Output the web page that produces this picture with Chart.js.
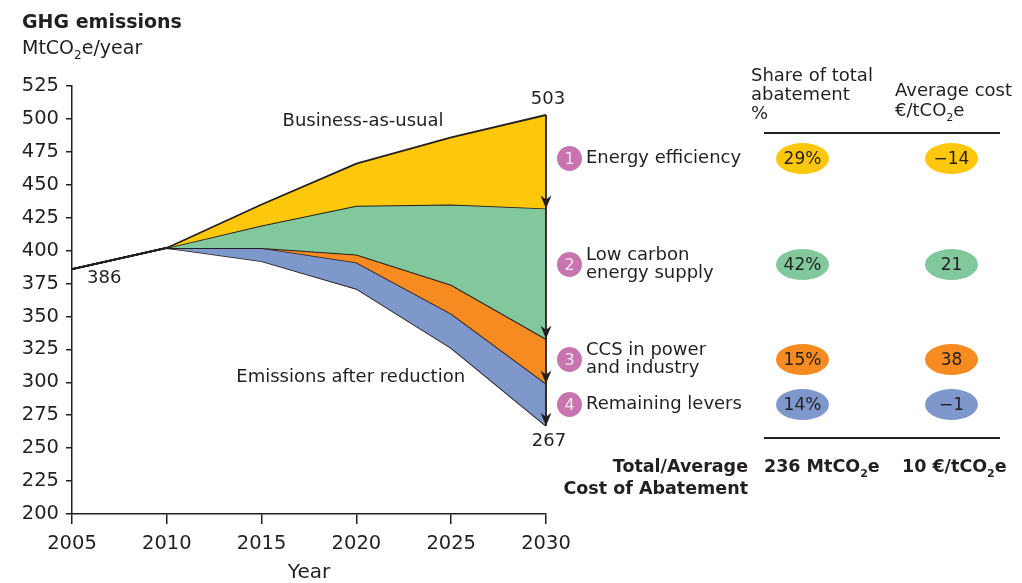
<!DOCTYPE html>
<html>
<head>
<meta charset="utf-8">
<script src="https://cdn.jsdelivr.net/npm/chart.js@4/dist/chart.umd.min.js"></script>
<style>
  html, body { margin: 0; padding: 0; background: #fff; }
  body { width: 1022px; height: 583px; position: relative; overflow: hidden;
         font-family: "DejaVu Sans", sans-serif; color: #231f20; }
  #wrap { position: absolute; left: 0; top: 0; width: 1022px; height: 583px; }
  .t { position: absolute; white-space: nowrap; font-size: 18px; line-height: 18px; }
  .b { font-weight: bold; }
  .dot { position: absolute; width: 25px; height: 25px; border-radius: 50%; background: #c874ae;
         color: #f6e6f0; font-size: 16px; line-height: 25px; text-align: center; }
  .pill { position: absolute; width: 53px; height: 31px; border-radius: 50%; font-size: 17px;
          line-height: 31px; text-align: center; }
  .rule { position: absolute; left: 764px; width: 236px; height: 1.5px; background: #231f20; }
  sub { font-size: 11px; }
</style>
</head>
<body>
<div id="wrap"><canvas id="ghg" width="1022" height="583"></canvas></div>
<div class="t b" style="left:22px; top:10px; font-size:19px; line-height:22px;">GHG emissions</div>
<div class="t" style="left:22px; top:36px; font-size:19px; line-height:22px;">MtCO<sub style="font-size:12px;">2</sub>e/year</div>
<div id="table"></div>
<script>
const years = [2005, 2010, 2015, 2020, 2025, 2030];
const businessAsUsual = [386, 402, 435, 466, 486, 503];
const afterEfficiency = [386, 402, 419, 434, 435, 432];
const afterLowCarbon = [386, 402, 402, 397, 374, 333];
const afterCcs = [386, 402, 402, 391, 352, 299];
const afterAllLevers = [386, 402, 392, 371, 326, 267];
const stubYears = [2010, 2012];
const stubValues = [402, 401];

const levers = [['Energy efficiency'], ['Low carbon', 'energy supply'], ['CCS in power', 'and industry'], ['Remaining levers']];
const shares = ['29%', '42%', '15%', '14%'];
const costs = ['\u221214', '21', '38', '\u22121'];
const leverColors = ['#fdc80c', '#81c99d', '#f68b21', '#7f98cc'];

const toPoints = (vals, xs = years) => vals.map((v, i) => ({ x: xs[i], y: v }));

const ink = '#231f20';
const tickFont = { family: 'DejaVu Sans', size: 19.5 };

// arrows + value labels on the 2030 line
const arrowPlugin = {
    id: 'arrows',
    afterDatasetsDraw(chart) {
        const { ctx, scales: { x, y } } = chart;
        const px = x.getPixelForValue(2030);
        const last = arr => arr[arr.length - 1];
        const top = y.getPixelForValue(last(businessAsUsual));
        const bottom = y.getPixelForValue(last(afterAllLevers));
        ctx.save();
        ctx.strokeStyle = ink;
        ctx.fillStyle = ink;
        ctx.lineWidth = 1.8;
        ctx.beginPath();
        ctx.moveTo(px, top);
        ctx.lineTo(px, bottom);
        ctx.stroke();
        [afterEfficiency, afterLowCarbon, afterCcs, afterAllLevers].forEach(arr => {
            const py = y.getPixelForValue(last(arr));
            ctx.beginPath();
            ctx.moveTo(px - 5.5, py - 13);
            ctx.lineTo(px, py - 9);
            ctx.lineTo(px + 5.5, py - 13);
            ctx.lineTo(px, py);
            ctx.closePath();
            ctx.fill();
        });

        ctx.font = '18px "DejaVu Sans"';
        ctx.textAlign = 'center';
        ctx.textBaseline = 'middle';
        ctx.fillText(String(last(businessAsUsual)), px + 2, top - 16);
        ctx.fillText(String(last(afterAllLevers)), px + 3, bottom + 16);
        ctx.textAlign = 'left';
        ctx.fillText(String(businessAsUsual[0]), x.getPixelForValue(2005) + 15, y.getPixelForValue(businessAsUsual[0]) + 9);
        ctx.textAlign = 'center';
        ctx.fillText('Business-as-usual', x.getPixelForValue(2020.35), y.getPixelForValue(498.4));
        ctx.fillText('Emissions after reduction', x.getPixelForValue(2019.7), y.getPixelForValue(303.9));
        ctx.restore();
    }
};

const area = (data, color, fill) => ({
    data: toPoints(data),
    borderColor: ink,
    borderWidth: 1.8,
    backgroundColor: color,
    fill: fill,
    pointRadius: 0,
    tension: 0
});

new Chart(document.getElementById('ghg'), {
    type: 'line',
    data: {
        datasets: [
            area(businessAsUsual, leverColors[0], '+1'),
            area(afterEfficiency, leverColors[1], '+1'),
            area(afterLowCarbon, leverColors[2], '+1'),
            area(afterCcs, leverColors[3], '+1'),
            area(afterAllLevers, 'transparent', false),
            {
                data: toPoints(stubValues, stubYears),
                borderColor: ink,
                borderWidth: 2.5,
                fill: false,
                pointRadius: 0
            }
        ]
    },
    options: {
        responsive: false,
        animation: false,
        layout: { padding: { left: 0, top: 86, right: 476, bottom: 0 } },
        plugins: { legend: { display: false }, tooltip: { enabled: false } },
        scales: {
            x: {
                type: 'linear',
                min: 2005,
                max: 2030,
                afterFit: s => { s.height = 69; },
                afterBuildTicks: s => { s.ticks = years.map(v => ({ value: v })); },
                title: { display: true, text: 'Year', color: ink, font: { family: 'DejaVu Sans', size: 20, lineHeight: 1 }, padding: { top: 0, bottom: 0 } },
                ticks: { color: ink, font: tickFont, padding: 8, maxRotation: 0, callback: v => String(v) },
                grid: { drawOnChartArea: false, drawTicks: true, tickLength: 10, color: ink, lineWidth: 1.5 },
                border: { color: ink, width: 1.5 }
            },
            y: {
                min: 200,
                max: 525,
                afterFit: s => { s.width = 72; },
                ticks: { stepSize: 25, color: ink, font: tickFont, padding: 7 },
                grid: { drawOnChartArea: false, drawTicks: true, tickLength: 6, color: ink, lineWidth: 1.5 },
                border: { color: ink, width: 1.5 }
            }
        }
    },
    plugins: [arrowPlugin]
});

// right-hand table
const rowY = [158, 264, 359, 404];
let html = '';
html += '<div class="t" style="left:751px; top:65px; line-height:19px;">Share of total<br>abatement<br>%</div>';
html += '<div class="t" style="left:895px; top:80px; line-height:20px;">Average cost<br>\u20ac/tCO<sub>2</sub>e</div>';
html += '<div class="rule" style="top:132px;"></div>';
levers.forEach((lines, i) => {
    const cy = rowY[i];
    html += `<div class="dot" style="left:557px; top:${cy - 12}px;">${i + 1}</div>`;
    const h = lines.length * 18;
    html += `<div class="t" style="left:586px; top:${cy - h / 2 - 1}px;">${lines.join('<br>')}</div>`;
    html += `<div class="pill" style="left:776px; top:${cy - 15}px; background:${leverColors[i]};">${shares[i]}</div>`;
    html += `<div class="pill" style="left:925px; top:${cy - 15}px; background:${leverColors[i]};">${costs[i]}</div>`;
});
html += '<div class="rule" style="top:437px;"></div>';
html += '<div class="t b" style="right:274px; top:455px; font-size:17.5px; line-height:22px; text-align:right;">Total/Average<br>Cost of Abatement</div>';
html += '<div class="t b" style="left:764px; top:455px; font-size:17.5px; line-height:22px;">236 MtCO<sub>2</sub>e</div>';
html += '<div class="t b" style="left:902px; top:455px; font-size:17.5px; line-height:22px;">10 \u20ac/tCO<sub>2</sub>e</div>';
document.getElementById('table').innerHTML = html;
</script>
</body>
</html>
